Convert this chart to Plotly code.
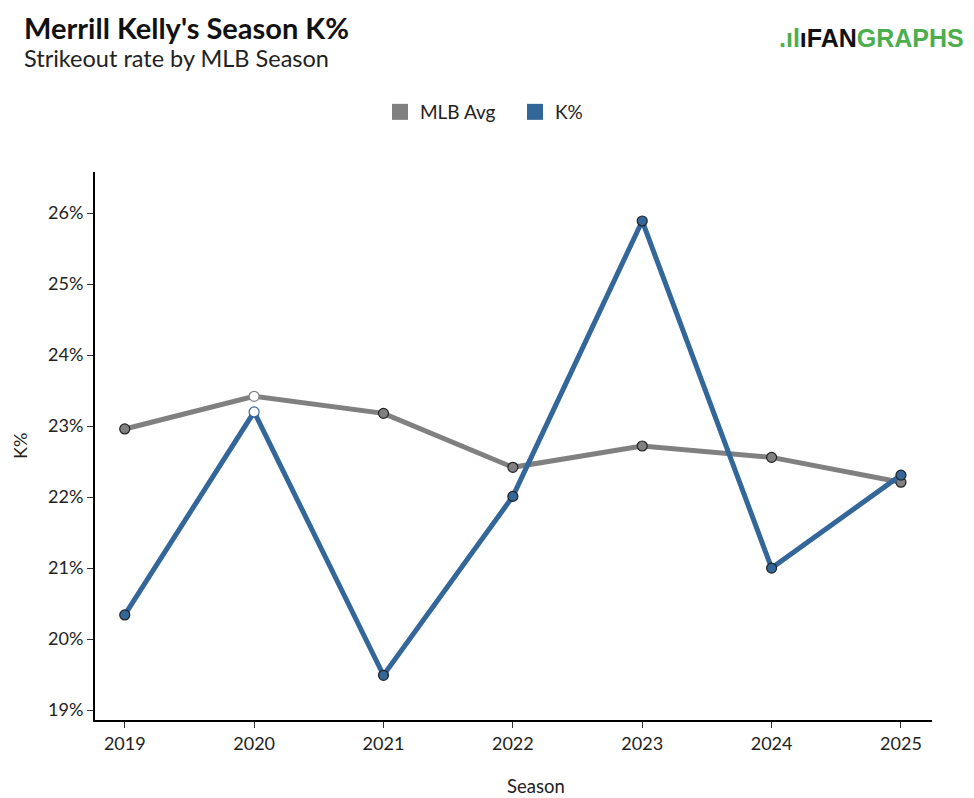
import plotly.graph_objects as go

seasons = [2019, 2020, 2021, 2022, 2023, 2024, 2025]
k_pct = [20.34, 23.20, 19.49, 22.01, 25.89, 21.00, 22.31]
mlb_avg = [22.96, 23.42, 23.18, 22.42, 22.72, 22.56, 22.21]
y_ticks = [19, 20, 21, 22, 23, 24, 25, 26]
y_tick_labels = [f"{v}%" for v in y_ticks]

GRAY = "#808080"
BLUE = "#336699"
HILITE = 2020

def fills(color):
    return ["white" if s == HILITE else color for s in seasons]

def outlines(color):
    return [color if s == HILITE else "#222222" for s in seasons]

fig = go.Figure()
fig.add_trace(go.Scatter(
    x=seasons, y=mlb_avg, mode="lines+markers", name="MLB Avg", showlegend=False,
    line=dict(color=GRAY, width=5),
    marker=dict(size=10, color=fills(GRAY), line=dict(color=outlines(GRAY), width=1.2)),
))
fig.add_trace(go.Scatter(
    x=seasons, y=k_pct, mode="lines+markers", name="K%", showlegend=False,
    line=dict(color=BLUE, width=5),
    marker=dict(size=10, color=fills(BLUE), line=dict(color=outlines(BLUE), width=1.2)),
))
for name, col in [("MLB Avg", GRAY), ("K%", BLUE)]:
    fig.add_trace(go.Scatter(
        x=[None], y=[None], mode="markers", name=name,
        marker=dict(symbol="square", size=18, color=col),
    ))

W, H = 958, 790
fig.update_layout(
    width=W, height=H,
    paper_bgcolor="white", plot_bgcolor="white",
    font=dict(family="Lato", size=17, color="#222222"),
    margin=dict(l=87, r=34, t=164, b=78, autoexpand=False),
    showlegend=True,
    legend=dict(orientation="h", x=0.5292, xref="container", xanchor="center",
                y=1 - 104 / H, yref="container", yanchor="middle",
                font=dict(size=19), traceorder="normal",
                entrywidth=90, entrywidthmode="pixels"),
    xaxis=dict(
        range=[2018.77, 2025.24], tickvals=seasons, ticktext=[str(s) for s in seasons],
        showgrid=False, zeroline=False, showline=True, linecolor="black", linewidth=2,
        ticks="outside", ticklen=6, tickcolor="#333333", tickfont=dict(size=18),
        automargin=False,
    ),
    yaxis=dict(
        range=[18.86, 26.58], tickvals=y_ticks, ticktext=y_tick_labels,
        showgrid=False, zeroline=False, showline=True, linecolor="black", linewidth=2,
        ticks="outside", ticklen=6, tickcolor="#333333", tickfont=dict(size=18),
        automargin=False,
    ),
    annotations=[
        dict(text="<b>Merrill Kelly's Season K%</b>", xref="paper", yref="paper",
             x=-0.0872, y=1.0, xanchor="left", yanchor="middle", showarrow=False,
             font=dict(size=29, color="#111111"), yshift=145),
        dict(text="Strikeout rate by MLB Season", xref="paper", yref="paper",
             x=-0.0872, y=1.0, xanchor="left", yanchor="middle", showarrow=False,
             font=dict(size=23.5, color="#222222"), yshift=114),
        dict(text="<span style='color:#4cae4c'>.ıl</span><span style='color:#111'>ıFAN</span><span style='color:#4cae4c'>GRAPHS</span>",
             xref="paper", yref="paper", x=1.0406, y=1.0, xanchor="right", yanchor="middle",
             showarrow=False, font=dict(size=25, family="Liberation Sans", weight="bold"),
             yshift=134),
        dict(text="Season", xref="paper", yref="paper", x=0.527, y=0.0,
             xanchor="center", yanchor="middle", showarrow=False,
             font=dict(size=18.5, color="#222222"), yshift=-66),
        dict(text="K%", xref="paper", yref="paper", x=-0.0896, y=0.5,
             xanchor="center", yanchor="middle", showarrow=False, textangle=-90,
             font=dict(size=18, color="#222222")),
    ],
)

fig.write_html("out.html")
